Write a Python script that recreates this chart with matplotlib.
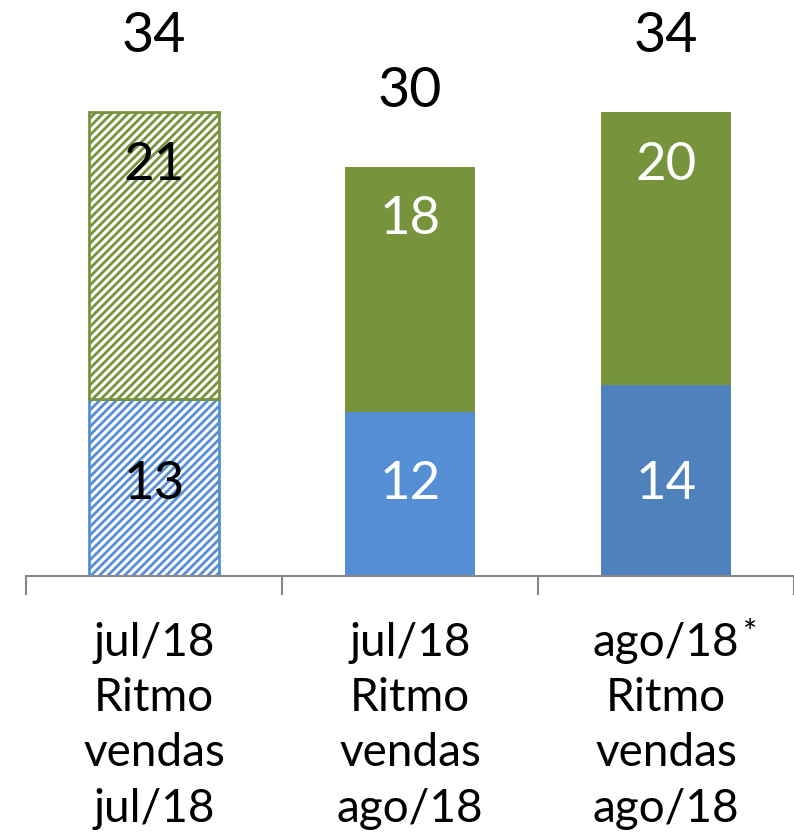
import matplotlib.pyplot as plt

plt.rcParams['font.family'] = ['Lato', 'DejaVu Sans']
plt.rcParams['hatch.linewidth'] = 2.0

categories = ["jul/18\nRitmo\nvendas\njul/18",
              "jul/18\nRitmo\nvendas\nago/18",
              "ago/18\nRitmo\nvendas\nago/18"]
blue_vals = [13, 12, 14]
green_vals = [21, 18, 20]
totals = [34, 30, 34]

green = "#77933C"
blue_colors = ["#558ED5", "#558ED5", "#4F81BD"]

fig = plt.figure(figsize=(7.94, 8.39), dpi=100)
ax = fig.add_axes([26 / 794, 1 - 576 / 839, 768 / 794, 576 / 839])

x = range(len(categories))
w = 0.51
for i in x:
    if i == 0:
        # hatched "ritmo" bar
        ax.bar(i, blue_vals[i], w, color="white", edgecolor=blue_colors[i],
               hatch="////", linewidth=2, zorder=2)
        ax.bar(i, green_vals[i], w, bottom=blue_vals[i], color="white",
               edgecolor=green, hatch="////", linewidth=2, zorder=2)
        tc = "black"
    else:
        ax.bar(i, blue_vals[i], w, color=blue_colors[i], linewidth=0, zorder=2)
        ax.bar(i, green_vals[i], w, bottom=blue_vals[i], color=green,
               linewidth=0, zorder=2)
        tc = "white"
    ax.text(i, 6.7, str(blue_vals[i]), ha="center",
            va="center", fontsize=38, color=tc, zorder=3)
    ax.text(i, totals[i] - 3.9, str(green_vals[i]), ha="center",
            va="center", fontsize=38, color=tc, zorder=3)
    ax.text(i, totals[i] + 5.5, str(totals[i]), ha="center", va="center",
            fontsize=40, color="black")

ax.set_xlim(-0.5, 2.475)
ax.set_ylim(0, 576 / 13.65)

for s in ["top", "right", "left"]:
    ax.spines[s].set_visible(False)
ax.spines["bottom"].set_color("#888888")
ax.spines["bottom"].set_linewidth(1.5)
ax.set_yticks([])

ax.set_xticks(list(x))
ax.set_xticklabels(categories, fontsize=33, linespacing=1.39)
ax.tick_params(axis="x", which="major", length=0, pad=33)
ax.set_xticks([-0.5, 0.5, 1.5, 2.5], minor=True)
ax.tick_params(axis="x", which="minor", length=14, width=1.5, color="#888888")

fig.text(750 / 794, 1 - 634 / 839, "*", fontsize=24, ha="center", va="center")

fig.savefig("out.png", dpi=100)
